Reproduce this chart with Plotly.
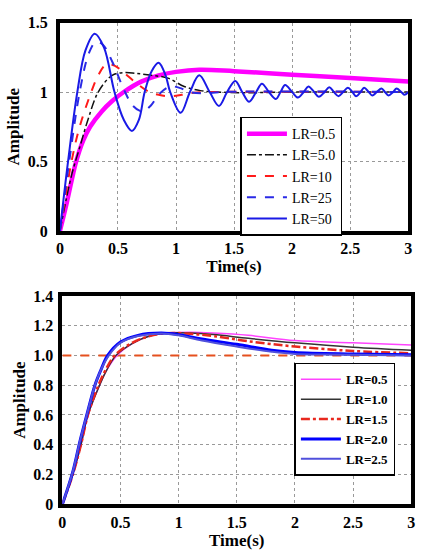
import plotly.graph_objects as go

# ---------------- Top chart data ----------------
t_top_05 = [0, 0.05, 0.1, 0.14, 0.2, 0.26, 0.36, 0.45, 0.55, 0.7, 0.85, 1.0, 1.2, 1.5, 2.0, 2.5, 3.0]
a_top_05 = [0, 0.17, 0.36, 0.5, 0.65, 0.75, 0.86, 0.935, 1.0, 1.075, 1.12, 1.145, 1.16, 1.15, 1.125, 1.10, 1.075]

t_top_5 = [0, 0.1, 0.17, 0.245, 0.33, 0.45, 0.55, 0.65, 0.79, 0.93, 1.07, 1.21, 1.35, 1.6, 2.0, 3.0]
a_top_5 = [0, 0.4, 0.6, 0.81, 1.0, 1.12, 1.14, 1.135, 1.12, 1.10, 1.04, 1.01, 1.0, 0.995, 1.0, 1.0]

t_top_10 = [0, 0.1, 0.17, 0.27, 0.33, 0.4, 0.47, 0.55, 0.65, 0.77, 0.88, 0.97, 1.05, 1.15, 1.3, 3.0]
a_top_10 = [0, 0.5, 0.75, 1.0, 1.12, 1.20, 1.19, 1.14, 1.07, 1.0, 0.975, 0.97, 0.98, 0.995, 1.0, 1.0]

t_top_25 = [0, 0.08, 0.17, 0.25, 0.31, 0.37, 0.45, 0.55, 0.63, 0.71, 0.78, 0.86, 0.95, 1.03, 1.12, 1.25, 1.4, 3.0]
a_top_25 = [0, 0.5, 1.0, 1.28, 1.36, 1.34, 1.22, 1.02, 0.9, 0.86, 0.9, 0.99, 1.04, 1.03, 1.0, 0.99, 1.0, 1.0]

t_top_50 = [0, 0.07, 0.15, 0.22, 0.30, 0.38, 0.47, 0.55, 0.62, 0.68, 0.73, 0.79, 0.85, 0.91,
            0.95, 1.04, 1.12, 1.20, 1.29, 1.37, 1.44, 1.51, 1.57, 1.63, 1.69, 1.74, 1.80, 1.86,
            1.90, 1.94, 2.00, 2.05, 2.10, 2.14, 2.19, 2.23, 2.28, 2.32, 2.36, 2.40, 2.44, 2.48,
            2.52, 2.55, 2.59, 2.62, 2.66, 2.69, 2.73, 2.77, 2.80, 2.83, 2.87, 2.90, 2.94, 2.97, 3.0]
a_top_50 = [0, 0.5, 1.0, 1.3, 1.42, 1.32, 1.0, 0.8, 0.72, 0.8, 1.0, 1.15, 1.21, 1.12,
            1.0, 0.85, 1.0, 1.12, 1.0, 0.90, 1.0, 1.08, 1.0, 0.93, 1.0, 1.06, 1.0, 0.95,
            1.0, 1.05, 1.0, 0.96, 1.0, 1.04, 1.0, 0.965, 1.0, 1.035, 1.0, 0.97, 1.0, 1.03,
            1.0, 0.97, 1.0, 1.03, 1.0, 0.975, 1.0, 1.025, 1.0, 0.975, 1.0, 1.025, 1.0, 0.98, 1.0]

top_names = ["LR=0.5", "LR=5.0", "LR=10", "LR=25", "LR=50"]

# ---------------- Bottom chart data ----------------
t_bot_05 = [0, 0.09, 0.16, 0.22, 0.32, 0.38, 0.47, 0.6, 0.75, 0.9, 1.1, 1.3, 1.6, 2.0, 2.5, 3.0]
a_bot_05 = [0, 0.2, 0.4, 0.6, 0.8, 0.9, 1.0, 1.08, 1.13, 1.15, 1.155, 1.15, 1.135, 1.10, 1.085, 1.07]

t_bot_10 = [0, 0.09, 0.16, 0.22, 0.32, 0.38, 0.46, 0.6, 0.75, 0.9, 1.1, 1.3, 1.6, 2.0, 2.5, 3.0]
a_bot_10 = [0, 0.2, 0.4, 0.6, 0.8, 0.9, 1.0, 1.08, 1.13, 1.15, 1.15, 1.14, 1.115, 1.085, 1.055, 1.035]

t_bot_15 = [0, 0.09, 0.16, 0.22, 0.31, 0.37, 0.45, 0.6, 0.75, 0.9, 1.1, 1.3, 1.6, 2.0, 2.5, 3.0]
a_bot_15 = [0, 0.2, 0.4, 0.6, 0.8, 0.9, 1.0, 1.085, 1.13, 1.15, 1.145, 1.13, 1.095, 1.06, 1.03, 1.015]

t_bot_20 = [0, 0.09, 0.15, 0.21, 0.28, 0.33, 0.39, 0.5, 0.65, 0.85, 1.0, 1.2, 1.5, 1.8, 2.0, 2.5, 3.0]
a_bot_20 = [0, 0.22, 0.42, 0.6, 0.8, 0.9, 1.0, 1.09, 1.135, 1.15, 1.14, 1.11, 1.075, 1.035, 1.02, 1.01, 1.005]

t_bot_25 = [0, 0.09, 0.15, 0.21, 0.28, 0.33, 0.40, 0.5, 0.65, 0.85, 1.0, 1.2, 1.5, 1.8, 2.0, 2.5, 3.0]
a_bot_25 = [0, 0.22, 0.42, 0.6, 0.8, 0.9, 1.0, 1.085, 1.13, 1.148, 1.135, 1.10, 1.06, 1.025, 1.01, 1.005, 1.0]

t_ref = [0, 3.0]
a_ref = [1.0, 1.0]

bot_names = ["LR=0.5", "LR=1.0", "LR=1.5", "LR=2.0", "LR=2.5"]

top_x_ticks = [0, 0.5, 1, 1.5, 2, 2.5, 3]
top_x_labels = ["0", "0.5", "1", "1.5", "2", "2.5", "3"]
top_y_ticks = [0, 0.5, 1, 1.5]
top_y_labels = ["0", "0.5", "1", "1.5"]
bot_x_ticks = [0, 0.5, 1, 1.5, 2, 2.5, 3]
bot_x_labels = ["0", "0.5", "1", "1.5", "2", "2.5", "3"]
bot_y_ticks = [0, 0.2, 0.4, 0.6, 0.8, 1.0, 1.2, 1.4]
bot_y_labels = ["0", "0.2", "0.4", "0.6", "0.8", "1.0", "1.2", "1.4"]

SERIF = "Liberation Serif"

fig = go.Figure()

top_series = [
    (t_top_05, a_top_05, "#ff00ff", 4.5, "solid"),
    (t_top_5, a_top_5, "#111111", 1.5, "dashdot"),
    (t_top_10, a_top_10, "#ff1a1a", 2, "dash"),
    (t_top_25, a_top_25, "#2a2ae6", 2, "dash"),
    (t_top_50, a_top_50, "#1a1ae6", 2, "solid"),
]
for (t, a, c, w, d), n in zip(top_series, top_names):
    fig.add_trace(go.Scatter(x=t, y=a, name=n, mode="lines",
                             line=dict(color=c, width=w, dash=d, shape="spline", smoothing=1.0),
                             xaxis="x", yaxis="y", legend="legend"))

fig.add_trace(go.Scatter(x=t_ref, y=a_ref, mode="lines", showlegend=False,
                         line=dict(color="#e6501e", width=2, dash="dash"),
                         xaxis="x2", yaxis="y2"))

bot_series = [
    (t_bot_05, a_bot_05, "#ff44ff", 1.5, "solid"),
    (t_bot_10, a_bot_10, "#333333", 1.5, "solid"),
    (t_bot_15, a_bot_15, "#e8281e", 2.5, "dashdot"),
    (t_bot_20, a_bot_20, "#0000ff", 3, "solid"),
    (t_bot_25, a_bot_25, "#5050dc", 2, "solid"),
]
for (t, a, c, w, d), n in zip(bot_series, bot_names):
    fig.add_trace(go.Scatter(x=t, y=a, name=n, mode="lines",
                             line=dict(color=c, width=w, dash=d, shape="spline", smoothing=1.0),
                             xaxis="x2", yaxis="y2", legend="legend2"))

axis_common = dict(showline=True, linecolor="black", mirror=True, zeroline=False,
                   showgrid=True, gridcolor="#999999", griddash="dot", gridwidth=1,
                   ticks="", tickfont=dict(family=SERIF, size=16, color="black", weight="bold"))

title_font = dict(family=SERIF, size=17, color="black", weight="bold")

fig.update_layout(
    width=423, height=555,
    margin=dict(l=0, r=0, t=0, b=0),
    paper_bgcolor="white", plot_bgcolor="white",
    showlegend=True,
    xaxis=dict(domain=[57 / 423, 412 / 423], anchor="y", range=[0, 3],
               tickvals=top_x_ticks, ticktext=top_x_labels, linewidth=4,
               title=dict(text="Time(s)", standoff=3, font=title_font),
               **axis_common),
    yaxis=dict(domain=[1 - 230 / 555, 1 - 15 / 555], anchor="x", range=[0, 1.5],
               tickvals=top_y_ticks, ticktext=top_y_labels, linewidth=4,
               ticklabelstandoff=5,
               title=dict(text="Amplitude", standoff=5, font=title_font),
               **axis_common),
    xaxis2=dict(domain=[59.5 / 423, 415 / 423], anchor="y2", range=[0, 3],
                tickvals=bot_x_ticks, ticktext=bot_x_labels, linewidth=4,
                title=dict(text="Time(s)", standoff=3, font=title_font),
                **axis_common),
    yaxis2=dict(domain=[1 - 512 / 555, 1 - 297 / 555], anchor="x2", range=[0, 1.4],
                tickvals=bot_y_ticks, ticktext=bot_y_labels, linewidth=4,
                ticklabelstandoff=2,
                title=dict(text="Amplitude", standoff=4, font=title_font),
                **axis_common),
    legend=dict(x=241 / 423, y=1 - 112 / 555, xanchor="left", yanchor="top",
                bgcolor="white", bordercolor="black", borderwidth=1.5,
                itemwidth=40,
                font=dict(family=SERIF, size=14, color="black")),
    legend2=dict(x=296 / 423, y=1 - 366 / 555, xanchor="left", yanchor="top",
                 bgcolor="white", bordercolor="black", borderwidth=1.5,
                 itemwidth=40,
                 font=dict(family=SERIF, size=13, color="black", weight="bold")),
)

fig.write_html("out.html")
